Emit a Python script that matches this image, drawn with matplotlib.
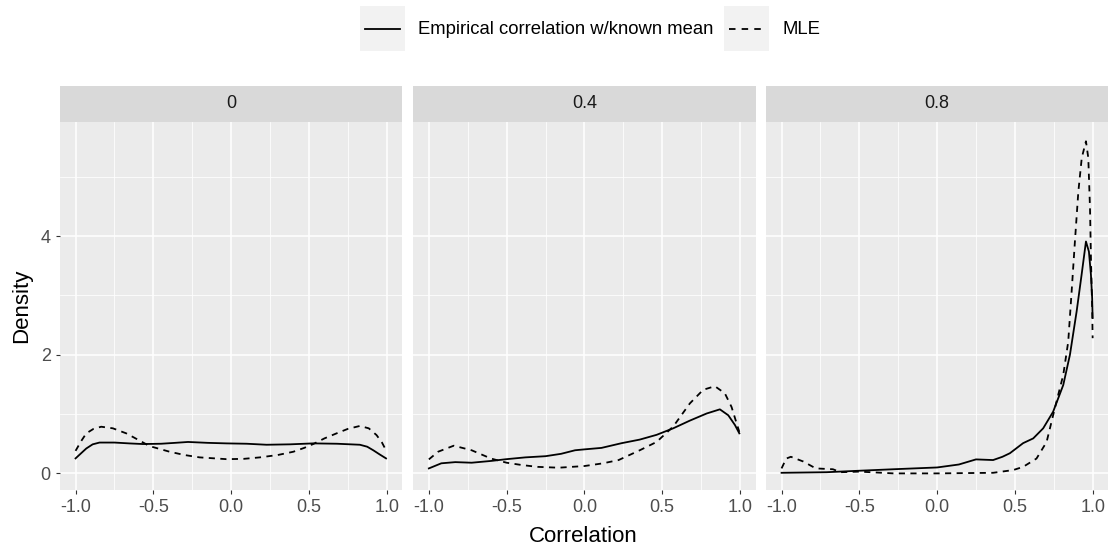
import matplotlib
matplotlib.use("Agg")
import matplotlib.pyplot as plt
from matplotlib.patches import Rectangle
from matplotlib.lines import Line2D

plt.rcParams['font.family'] = ['Liberation Sans', 'DejaVu Sans']

facets = ["0", "0.4", "0.8"]
series_names = ["Empirical correlation w/known mean", "MLE"]

# Panel "0"
p0_emp_x = [-1.0, -0.96, -0.931, -0.89, -0.846, -0.75, -0.65, -0.567, -0.45, -0.36, -0.277, -0.15, -0.03, 0.1, 0.228, 0.38, 0.528, 0.68, 0.828, 0.875, 0.914, 0.955, 0.996]
p0_emp_y = [0.253, 0.35, 0.42, 0.49, 0.52, 0.52, 0.505, 0.495, 0.50, 0.515, 0.53, 0.515, 0.506, 0.50, 0.483, 0.49, 0.506, 0.50, 0.483, 0.45, 0.39, 0.32, 0.253]
p0_mle_x = [-1.0, -0.965, -0.931, -0.885, -0.835, -0.76, -0.674, -0.6, -0.524, -0.395, -0.3, -0.202, -0.03, 0.08, 0.185, 0.3, 0.4, 0.47, 0.528, 0.6, 0.678, 0.75, 0.828, 0.885, 0.935, 0.97, 0.996]
p0_mle_y = [0.38, 0.54, 0.675, 0.75, 0.787, 0.76, 0.675, 0.57, 0.46, 0.365, 0.31, 0.27, 0.24, 0.245, 0.27, 0.31, 0.365, 0.43, 0.495, 0.59, 0.675, 0.75, 0.80, 0.76, 0.646, 0.52, 0.39]

# Panel "0.4"
p1_emp_x = [-1.0, -0.92, -0.83, -0.725, -0.6, -0.5, -0.38, -0.25, -0.15, -0.06, 0.0, 0.11, 0.24, 0.356, 0.464, 0.571, 0.678, 0.786, 0.871, 0.925, 0.968, 0.996]
p1_emp_y = [0.084, 0.17, 0.19, 0.18, 0.21, 0.24, 0.27, 0.29, 0.33, 0.39, 0.405, 0.43, 0.51, 0.57, 0.65, 0.76, 0.89, 1.01, 1.08, 0.98, 0.815, 0.675]
p1_mle_x = [-1.0, -0.94, -0.84, -0.725, -0.6, -0.5, -0.4, -0.3, -0.165, 0.0, 0.12, 0.22, 0.356, 0.464, 0.571, 0.678, 0.764, 0.839, 0.903, 0.946, 0.979, 0.996]
p1_mle_y = [0.236, 0.366, 0.467, 0.39, 0.25, 0.18, 0.14, 0.11, 0.096, 0.124, 0.17, 0.225, 0.39, 0.53, 0.79, 1.18, 1.41, 1.47, 1.35, 1.12, 0.84, 0.70]

# Panel "0.8"
p2_emp_x = [-1.0, -0.71, -0.5, -0.28, 0.0, 0.14, 0.25, 0.36, 0.42, 0.468, 0.553, 0.618, 0.682, 0.746, 0.811, 0.854, 0.897, 0.929, 0.957, 0.976, 0.989, 0.997, 1.0]
p2_emp_y = [0.01, 0.02, 0.045, 0.07, 0.10, 0.15, 0.236, 0.225, 0.28, 0.34, 0.51, 0.59, 0.76, 1.04, 1.49, 2.0, 2.73, 3.35, 3.91, 3.74, 3.35, 2.95, 2.62]
p2_mle_x = [-1.0, -0.97, -0.94, -0.86, -0.78, -0.67, -0.62, -0.5, -0.28, 0.0, 0.36, 0.489, 0.553, 0.639, 0.704, 0.757, 0.811, 0.843, 0.865, 0.886, 0.908, 0.930, 0.957, 0.972, 0.983, 0.989, 0.997, 1.0]
p2_mle_y = [0.084, 0.25, 0.28, 0.20, 0.084, 0.07, 0.02, 0.03, 0.0, 0.0, 0.01, 0.056, 0.11, 0.25, 0.53, 1.10, 1.66, 2.22, 3.07, 3.91, 4.75, 5.32, 5.60, 5.32, 4.47, 3.63, 2.78, 2.28]

panel_data = [
    (p0_emp_x, p0_emp_y, p0_mle_x, p0_mle_y),
    (p1_emp_x, p1_emp_y, p1_mle_x, p1_mle_y),
    (p2_emp_x, p2_emp_y, p2_mle_x, p2_mle_y),
]

x_ticks = [-1.0, -0.5, 0.0, 0.5, 1.0]
x_tick_labels = ["-1.0", "-0.5", "0.0", "0.5", "1.0"]
x_minor = [-0.75, -0.25, 0.25, 0.75]
y_ticks = [0, 2, 4]
y_tick_labels = ["0", "2", "4"]
y_minor = [1, 3, 5]

W, H = 1110, 548
fig = plt.figure(figsize=(W / 100, H / 100), dpi=100)
fig.patch.set_facecolor("white")

panel_lefts = [60, 413.3, 766]
panel_w = 342.2
panel_top = 121.7
panel_bot = 490
strip_top = 86

dash = (0, (3.4, 3.0))
lw = 1.3

for i, (left, fac, data) in enumerate(zip(panel_lefts, facets, panel_data)):
    ax = fig.add_axes([left / W, 1 - panel_bot / H, panel_w / W, (panel_bot - panel_top) / H])
    ax.set_facecolor("#EBEBEB")
    for s in ax.spines.values():
        s.set_visible(False)
    ax.set_xlim(-1.1, 1.1)
    ax.set_ylim(-0.28, 5.93)
    ax.set_xticks(x_ticks)
    ax.set_xticklabels(x_tick_labels)
    ax.set_xticks(x_minor, minor=True)
    ax.set_yticks(y_ticks)
    ax.set_yticks(y_minor, minor=True)
    if i == 0:
        ax.set_yticklabels(y_tick_labels)
    else:
        ax.set_yticklabels([])
    ax.grid(True, which="major", color="white", linewidth=1.1)
    ax.grid(True, which="minor", color="white", linewidth=0.55)
    ax.set_axisbelow(True)
    ax.tick_params(which="major", length=3.2, width=0.8, color="#333333",
                   labelsize=13, labelcolor="#4D4D4D", pad=3.5)
    ax.tick_params(which="minor", length=0)
    if i != 0:
        ax.tick_params(axis="y", which="major", length=0)
    ex, ey, mx, my = data
    ax.plot(ex, ey, color="black", linewidth=lw, solid_joinstyle="round")
    ax.plot(mx, my, color="black", linewidth=lw, linestyle=dash)

    sax = fig.add_axes([left / W, 1 - panel_top / H, panel_w / W, (panel_top - strip_top) / H])
    sax.set_facecolor("#D9D9D9")
    for s in sax.spines.values():
        s.set_visible(False)
    sax.set_xticks([])
    sax.set_yticks([])
    sax.text(0.5, 0.5, fac, ha="center", va="center", fontsize=13, color="#1A1A1A",
             transform=sax.transAxes)

# axis titles
fig.text(583 / W, 1 - 537 / H, "Correlation", ha="center", va="center", fontsize=16, color="black")
fig.text(22 / W, 1 - 306 / H, "Density", ha="center", va="center", rotation=90, fontsize=16, color="black")

# legend (manual, ggplot-like)
def fx(px):
    return px / W

def fy(py):
    return 1 - py / H

key_specs = [(360, "-", 418, series_names[0]), (724, (0, (3.6, 3.4)), 782, series_names[1])]
for kx, ls, tx, label in key_specs:
    fig.patches.append(Rectangle((fx(kx), fy(51)), 45 / W, 45 / H, transform=fig.transFigure,
                                 facecolor="#F2F2F2", edgecolor="none"))
    fig.lines.append(Line2D([fx(kx + 5), fx(kx + 40)], [fy(28.5), fy(28.5)], transform=fig.transFigure,
                            color="black", linewidth=lw, linestyle=ls))
    fig.text(fx(tx), fy(29), label, ha="left", va="center", fontsize=13.3, color="black")

fig.savefig("out.png", dpi=100)
